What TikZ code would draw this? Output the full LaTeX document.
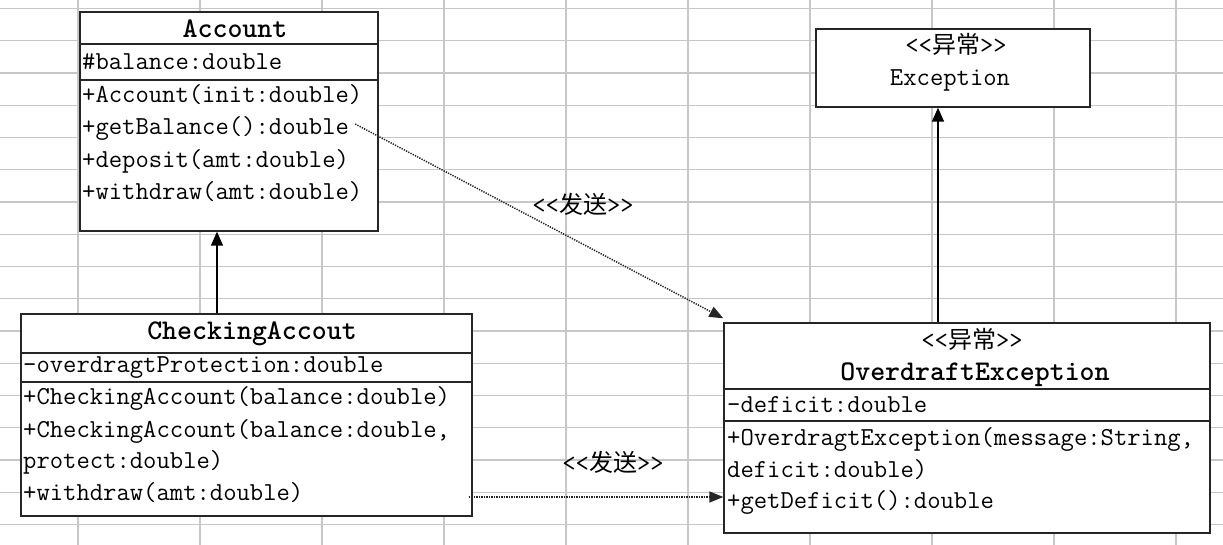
\documentclass[tikz,border=0pt]{standalone}
\usepackage{fontspec}
\newfontfamily\cjk{Noto Sans CJK SC}
\usetikzlibrary{arrows.meta}
\begin{document}
\begin{tikzpicture}[x=1pt,y=-1pt,
  grid/.style={draw=black!22,line width=1.3pt},
  box/.style={draw=black!85,line width=1.4pt,fill=white,inner sep=0pt},
  sep/.style={draw=black!85,line width=1.4pt},
  txt/.style={inner sep=0pt,anchor=west,text height=15pt,text depth=4pt,font=\fontsize{25.9}{28}\ttfamily},
  ttl/.style={inner sep=0pt,text height=16pt,text depth=4pt,font=\fontsize{28.5}{30}\ttfamily\bfseries},
  ster/.style={inner sep=0pt,text height=16pt,text depth=4pt,font=\fontsize{25.9}{28}\ttfamily},
  arr/.style={draw=black,line width=1.4pt,-{Triangle[length=14pt,width=12pt]}},
  dep/.style={draw=black!85,line width=1.5pt,dash pattern=on 1.3pt off 1.2pt,-{Triangle[length=14pt,width=11pt]}}]
\useasboundingbox (0,0) rectangle (1223,545);
\fill[white] (0,0) rectangle (1223,545);
% spreadsheet grid
\foreach \k in {0,...,9} {\draw[grid] ({78+122*\k},0) -- ({78+122*\k},545);}
\foreach \k in {0,...,16} {\draw[grid] (0,{8.5+32.25*\k}) -- (1223,{8.5+32.25*\k});}

% Account
\node[box,minimum width=298pt,minimum height=219pt] (account) at (229,121.5) {};
\draw[sep] (80,44) -- (378,44);
\draw[sep] (80,80) -- (378,80);
\node[ttl] (accT) at (235,32) {Account};
\node[txt] (accA) at (82,64) {\#balance:double};
\node[txt] (accM1) at (82,97) {+Account(init:double)};
\node[txt] (accM2) at (82,129) {+getBalance():double};
\node[txt] (accM3) at (82,162) {+deposit(amt:double)};
\node[txt] (accM4) at (82,194) {+withdraw(amt:double)};

% CheckingAccout
\node[box,minimum width=451pt,minimum height=202pt] (check) at (246.5,415) {};
\draw[sep] (21,353) -- (472,353);
\draw[sep] (21,382) -- (472,382);
\node[ttl] (chkT) at (252,333) {CheckingAccout};
\node[txt] (chkA) at (23,367) {-overdragtProtection:double};
\node[txt] (chkM1) at (23,399) {+CheckingAccount(balance:double)};
\node[txt] (chkM2) at (23,432) {+CheckingAccount(balance:double,};
\node[txt] (chkM3) at (23,463) {protect:double)};
\node[txt] (chkM4) at (23,495) {+withdraw(amt:double)};

% Exception
\node[box,minimum width=274pt,minimum height=78pt] (exc) at (953,68) {};
\node[ster] (excS) at (956,48) {<{}<{\cjk\fontsize{24}{26}\selectfont 异常}>{}>};
\node[ster] (excT) at (950,80) {Exception};

% OverdraftException
\node[box,minimum width=486pt,minimum height=210pt] (over) at (967,428) {};
\draw[sep] (724,389) -- (1210,389);
\draw[sep] (724,421) -- (1210,421);
\node[ster] (ovS) at (972,342) {<{}<{\cjk\fontsize{24}{26}\selectfont 异常}>{}>};
\node[ttl] (ovT) at (975,374) {OverdraftException};
\node[txt] (ovA) at (727,407) {-deficit:double};
\node[txt] (ovM1) at (727,440) {+OverdragtException(message:String,};
\node[txt] (ovM2) at (727,472) {deficit:double)};
\node[txt] (ovM3) at (727,503) {+getDeficit():double};

% connectors
\coordinate (g1) at (217,0);
\coordinate (g2) at (938,0);
\coordinate (g3) at (0,497);
\draw[arr] (check.north -| g1) -- (account.south -| g1);
\draw[arr] (over.north -| g2) -- (exc.south -| g2);
\draw[dep] ([xshift=6pt,yshift=5pt]accM2.east) -- ([yshift=4pt]over.north west);
\draw[dep] ([xshift=-4pt]check.east |- g3) -- (over.west |- g3);

% labels
\node[ster] (lab1) at (583,208) {<{}<{\cjk\fontsize{24}{26}\selectfont 发送}>{}>};
\node[ster] (lab2) at (613,465) {<{}<{\cjk\fontsize{24}{26}\selectfont 发送}>{}>};
\end{tikzpicture}
\end{document}
